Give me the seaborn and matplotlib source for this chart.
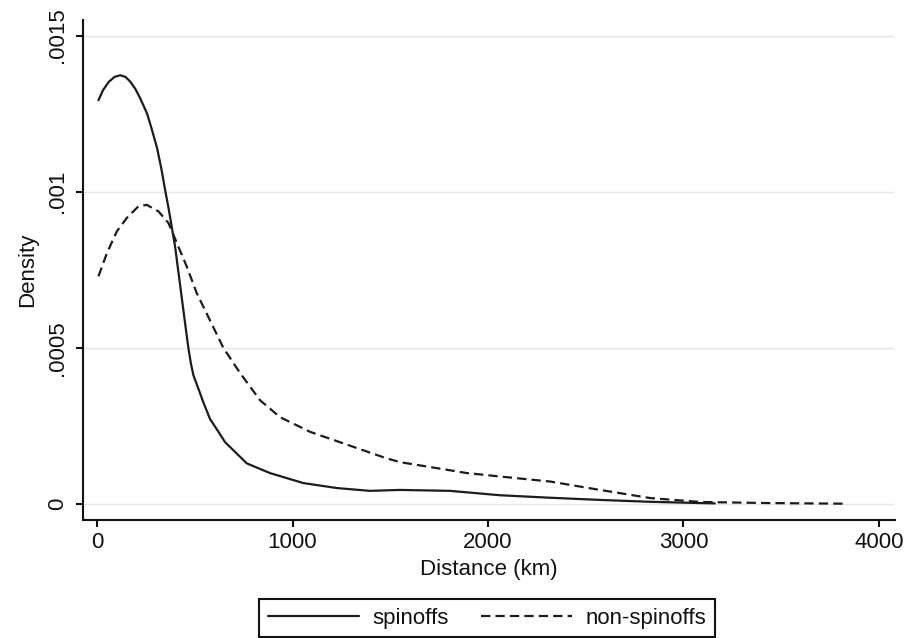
import matplotlib
matplotlib.use("Agg")
import matplotlib.pyplot as plt
import seaborn as sns
import pandas as pd

# ---- data ----
spin_x = [7, 30, 60, 90, 118, 145, 169, 195, 220, 256, 280, 307, 330, 348, 365, 384,
          399, 425, 450, 467, 480, 493, 518, 544, 578, 620, 655, 766, 885, 1055, 1227,
          1396, 1550, 1806, 2061, 2317, 2573, 2829, 3084, 3160]
spin_y = [0.001293, 0.001325, 0.001352, 0.001368, 0.001373, 0.001368, 0.001353,
          0.00133, 0.0013, 0.00125, 0.0012, 0.00114, 0.00107, 0.001006, 0.00095,
          0.00088, 0.000825, 0.0007, 0.00058, 0.0005, 0.00045, 0.000412, 0.00037,
          0.000325, 0.000272, 0.000232, 0.000198, 0.00013, 0.0000989, 0.000067,
          0.000051, 0.000042, 0.000045, 0.000042, 0.000028, 0.00002, 0.000013,
          0.000007, 0.000003, 0.000002]

non_x = [7, 50, 101, 152, 211, 254, 314, 365, 408, 459, 510, 563, 646, 731, 834, 936,
         1090, 1260, 1482, 1550, 1892, 2061, 2317, 2573, 2829, 3084, 3427, 3816]
non_y = [0.000729, 0.000803, 0.000873, 0.000916, 0.000953, 0.000958, 0.000937, 0.0009,
         0.000836, 0.00076, 0.000675, 0.000607, 0.0005, 0.00042, 0.000332, 0.000278,
         0.000231, 0.000194, 0.000146, 0.000134, 0.000099, 0.000088, 0.000072,
         0.000045, 0.000019, 0.0000065, 0.000003, 0.000001]

series_names = ["spinoffs", "non-spinoffs"]
x_ticks = [0, 1000, 2000, 3000, 4000]
y_ticks = [0, 0.0005, 0.001, 0.0015]
y_tick_labels = ["0", ".0005", ".001", ".0015"]
x_label = "Distance (km)"
y_label = "Density"

df = pd.concat([
    pd.DataFrame({"Distance": spin_x, "Density": spin_y, "group": series_names[0]}),
    pd.DataFrame({"Distance": non_x, "Density": non_y, "group": series_names[1]}),
], ignore_index=True)

sns.set_theme(style="white")
plt.rcParams["font.family"] = ["Liberation Sans", "DejaVu Sans"]

fig = plt.figure(figsize=(9.08, 6.38), dpi=100)
fig.patch.set_facecolor("white")
ax = fig.add_axes([83 / 908, 1 - 520 / 638, (895 - 83) / 908, 500 / 638])
ax.set_facecolor("white")

line_col = "#1c1c1c"
sns.lineplot(data=df, x="Distance", y="Density", style="group",
             dashes={series_names[0]: "", series_names[1]: (4.2, 2.3)},
             color=line_col, linewidth=1.6, ax=ax, sort=False, estimator=None)
for ln in ax.get_lines():
    ln.set_solid_joinstyle("round")
    ln.set_dash_joinstyle("round")

ax.set_xlim(-72, 4082)
ax.set_ylim(-0.0000513, 0.00155)
ax.set_xticks(x_ticks)
ax.set_xticklabels([str(t) for t in x_ticks])
ax.set_yticks(y_ticks)
ax.set_yticklabels(y_tick_labels, rotation=90, va="center")

ax.grid(axis="y", color="#e6e6e6", linewidth=1.0)
ax.grid(axis="x", visible=False)
ax.set_axisbelow(True)

for s in ["top", "right"]:
    ax.spines[s].set_visible(False)
for s in ["left", "bottom"]:
    ax.spines[s].set_color("#111111")
    ax.spines[s].set_linewidth(1.5)

ax.tick_params(axis="both", which="major", length=5, width=1.5, color="#111111",
               labelsize=16, labelcolor="#111111", direction="out",
               left=True, bottom=True)
ax.tick_params(axis="x", pad=4)
ax.tick_params(axis="y", pad=6)

ax.set_xlabel(x_label, fontsize=16, color="#111111")
ax.set_ylabel(y_label, fontsize=16, color="#111111")
ax.xaxis.set_label_coords(0.5, -0.078)
ax.yaxis.set_label_coords(-0.055, 0.5)

handles, labels = ax.get_legend_handles_labels()
ax.get_legend().remove()
leg = fig.legend(handles, labels, loc="lower center", bbox_to_anchor=(487 / 908, 0.0015),
                 ncol=2, fontsize=16, frameon=True, fancybox=False, shadow=False,
                 handlelength=4.1, handletextpad=0.6, columnspacing=1.45,
                 borderpad=0.38, borderaxespad=0.0)
frame = leg.get_frame()
frame.set_edgecolor("#111111")
frame.set_linewidth(1.5)
frame.set_facecolor("white")
frame.set_alpha(1)
for t in leg.get_texts():
    t.set_color("#111111")

fig.savefig("out.png", dpi=100, facecolor="white")
